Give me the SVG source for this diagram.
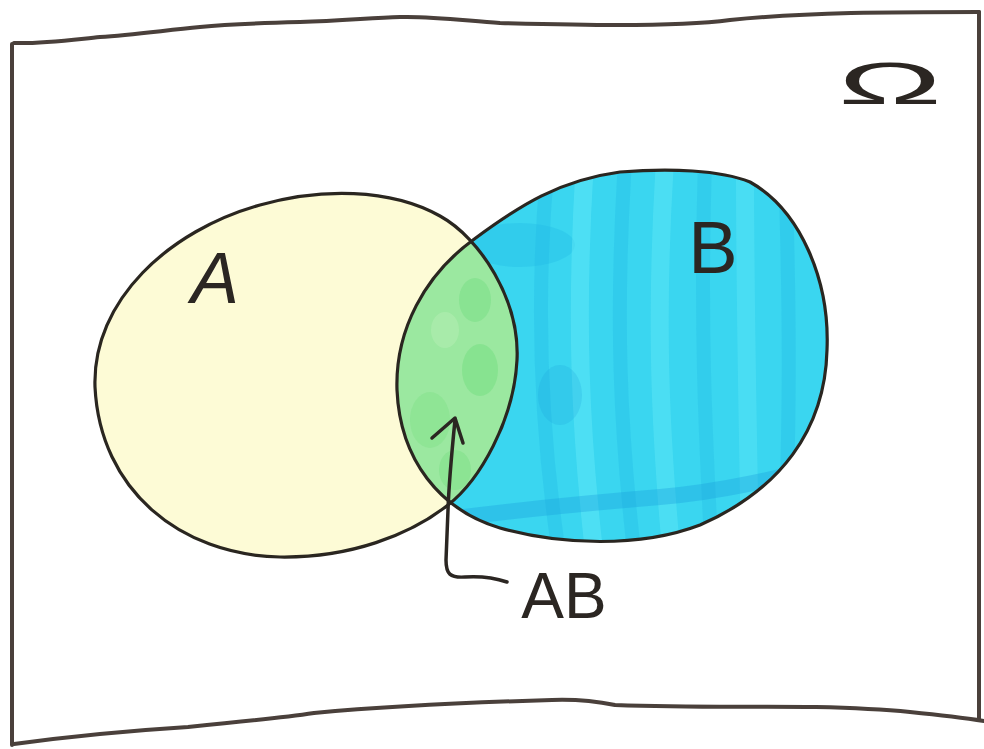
<svg xmlns="http://www.w3.org/2000/svg" width="984" height="749" viewBox="0 0 984 749">
<style>
.frame{fill:none;stroke:#4a403b;stroke-width:4;stroke-linecap:round;stroke-linejoin:round}
.outline{fill:none;stroke:#2a2620;stroke-width:3.2;stroke-linejoin:round}
.lbl{font-family:"Liberation Sans","DejaVu Sans",sans-serif;fill:#2b2622}
.band{fill:none;stroke-linecap:butt}
.conn{fill:none;stroke:#2b2622;stroke-width:3.5;stroke-linecap:round;stroke-linejoin:round}
</style>
<defs>
<path id="pA" d="M95,387 C92,300 170,230 260,205 C320,188 390,188 440,216 C480,238 520,300 517,360 C514,420 480,480 448,505 C410,535 350,558 280,557 C180,555 100,490 95,387 Z"/>
<path id="pB" d="M473,240 C520,205 560,180 620,172 C670,168 720,170 750,182 C800,210 830,280 827,350 C825,430 780,490 700,525 C640,548 560,545 500,528 C440,510 400,460 397,390 C395,330 425,275 473,240 Z"/>
<clipPath id="clipB"><use href="#pB"/></clipPath>
<clipPath id="clipA"><use href="#pA"/></clipPath>
</defs>
<rect width="984" height="749" fill="#ffffff"/>

<g id="frame">
<path class="frame" d="M14,43 C40,44 70,40 100,37 C130,35 160,31 200,27 C230,24 260,23 300,22 C340,21 370,18 400,17 C430,16 460,20 500,23 C540,24 580,25 617,25 C660,25 700,24 730,20 C770,16 810,14 851,13 C900,12 940,12 979,12"/>
<path class="frame" d="M12,44 L12,745"/>
<path class="frame" d="M979,12 L979,720"/>
<path class="frame" d="M14,744 C80,735 140,730 188,727 C240,722 280,718 314,713 C400,705 480,702 552,700 C580,699 600,702 615,705 C700,708 760,706 816,707 C860,708 890,710 910,712 C940,715 965,718 984,721"/>
</g>

<g id="omega">
<text class="lbl" x="890" y="104" font-size="60" text-anchor="middle" textLength="104" lengthAdjust="spacingAndGlyphs">Ω</text>
</g>

<g id="setA">
<use href="#pA" fill="#fdfbd6"/>
</g>

<g id="setB">
<use href="#pB" fill="#3ad6f0"/>
<g clip-path="url(#clipB)">
<ellipse cx="520" cy="245" rx="55" ry="22" fill="#1fb6e4" opacity="0.3"/>
<path class="band" stroke="#1fb6e4" stroke-opacity="0.3" stroke-width="14" d="M548,160 C535,300 540,430 560,560"/>
<path class="band" stroke="#66eaf8" stroke-opacity="0.45" stroke-width="18" d="M585,160 C575,320 580,430 595,560"/>
<path class="band" stroke="#1fb6e4" stroke-opacity="0.3" stroke-width="14" d="M625,160 C615,320 620,430 635,560"/>
<path class="band" stroke="#66eaf8" stroke-opacity="0.4" stroke-width="18" d="M665,160 C655,320 660,430 672,560"/>
<path class="band" stroke="#1fb6e4" stroke-opacity="0.28" stroke-width="14" d="M705,160 C700,320 705,430 712,560"/>
<path class="band" stroke="#66eaf8" stroke-opacity="0.35" stroke-width="18" d="M745,160 C745,320 748,420 750,560"/>
<path class="band" stroke="#1fb6e4" stroke-opacity="0.3" stroke-width="14" d="M785,160 C790,320 790,400 785,560"/>
<path class="band" stroke="#1a9fdc" stroke-opacity="0.35" stroke-width="16" d="M440,520 C530,508 600,502 660,497 C720,492 780,478 850,460"/>
<ellipse cx="560" cy="395" rx="22" ry="30" fill="#1a9fdc" opacity="0.22"/>
</g>
</g>

<g id="setAB">
<g clip-path="url(#clipB)">
<use href="#pA" fill="#9be8a0"/>
<g clip-path="url(#clipA)">
<ellipse cx="475" cy="300" rx="16" ry="22" fill="#6fdd7c" opacity="0.4"/>
<ellipse cx="480" cy="370" rx="18" ry="26" fill="#6fdd7c" opacity="0.45"/>
<ellipse cx="430" cy="420" rx="20" ry="28" fill="#78df82" opacity="0.35"/>
<ellipse cx="445" cy="330" rx="14" ry="18" fill="#b8efb6" opacity="0.45"/>
<ellipse cx="455" cy="470" rx="16" ry="20" fill="#6fdd7c" opacity="0.35"/>
</g>
</g>
</g>

<g id="outlines">
<use href="#pA" class="outline"/>
<use href="#pB" class="outline"/>
</g>

<g id="labels">
<text class="lbl" x="215" y="303" font-size="72" font-style="italic" text-anchor="middle">A</text>
<text class="lbl" x="713" y="273" font-size="74" text-anchor="middle">B</text>
<text class="lbl" x="564" y="618" font-size="64" text-anchor="middle">AB</text>
</g>

<g id="connectors">
<path class="conn" d="M455,420 C452,450 449,480 448,510 L446,560 C446,574 450,578 465,577 C480,576 495,578 507,582"/>
<path class="conn" d="M432,438 L455,418 L463,443"/>
</g>
</svg>
